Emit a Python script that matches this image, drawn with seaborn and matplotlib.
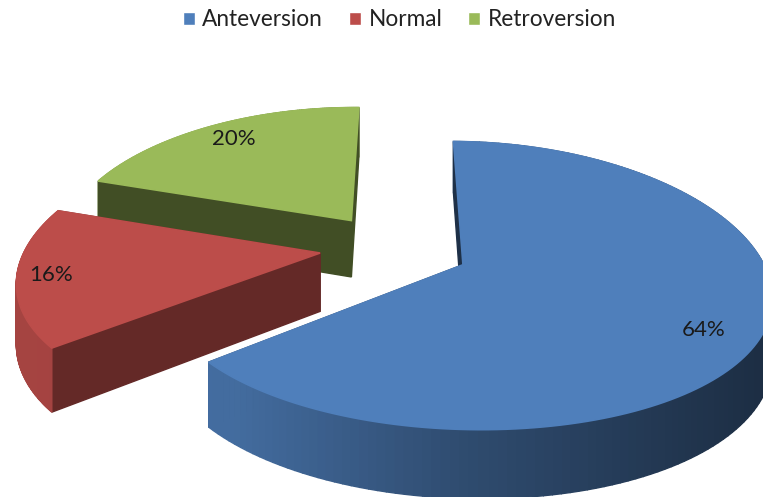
import numpy as np
import matplotlib
matplotlib.use("Agg")
import matplotlib.pyplot as plt
from matplotlib.patches import Polygon, Patch
from matplotlib.colors import to_rgb
import seaborn as sns

categories = ["Anteversion", "Normal", "Retroversion"]
shares = [64, 16, 20]
top_colors = ["#4F7FBB", "#BC4D4A", "#9ABA59"]

# how far each slice is pulled out of the pie, in pie radii
offset_u = [0.269, -0.209, -0.108]
offset_v = [0.128, 0.044, -0.200]
cut_shade = [0.38, 0.53, 0.42]
label_xy = [(704, 330), (51, 275), (234, 139)]
paint_order = [2, 1, 0]

W, H = 763, 497
CX, CY, RX, RY, TILT_X, TILT_Y, DEPTH = 382, 247, 294, 136, 0.18, 0.142, 58
ROTATION = 0.7


def project(u, v):
    return (CX + RX * u / (1 - TILT_X * v),
            CY + RY * v / (1 - TILT_Y * v),
            DEPTH / (1 - TILT_Y * v))


def shade(colour, f):
    return tuple(c * f for c in to_rgb(colour))


sns.set_theme(style="white")
plt.rcParams["font.family"] = ["Lato", "DejaVu Sans"]
fig = plt.figure(figsize=(W / 100, H / 100), dpi=100)
ax = fig.add_axes([0, 0, 1, 1])
ax.set_xlim(0, W)
ax.set_ylim(H, 0)
ax.axis("off")

edges = np.cumsum([0] + shares) / sum(shares) * 360 + ROTATION

for i in paint_order:
    colour = top_colors[i]
    a0, a1 = np.radians(edges[i]), np.radians(edges[i + 1])
    ou, ov = offset_u[i], offset_v[i]
    th = np.linspace(a0, a1, 160)
    us, vs = ou + np.sin(th), ov - np.cos(th)
    sx, sy, d = project(us, vs)
    ax_, ay_, ad = project(ou, ov)

    faces = []
    for j in range(len(th) - 1):
        quad = [(sx[j], sy[j]), (sx[j + 1], sy[j + 1]),
                (sx[j + 1], sy[j + 1] + d[j + 1]), (sx[j], sy[j] + d[j])]
        # rim brightness falls off from left to right
        t = (sx[j] - 13) / (763 - 13)
        f = np.interp(t, [0, 0.3, 0.6, 1.0], [0.88, 0.85, 0.6, 0.36])
        faces.append(((vs[j] + vs[j + 1]) / 2, quad, shade(colour, f)))
    for k in (0, -1):
        quad = [(ax_, ay_), (sx[k], sy[k]), (sx[k], sy[k] + d[k]), (ax_, ay_ + ad)]
        faces.append(((ov + vs[k]) / 2, quad, shade(colour, cut_shade[i])))
    for _, quad, fc in sorted(faces, key=lambda f: f[0]):
        ax.add_patch(Polygon(quad, closed=True, fc=fc, ec=fc, lw=1.0))

    ax.add_patch(Polygon(np.r_[[[ax_, ay_]], np.c_[sx, sy]], closed=True, fc=colour, ec=colour, lw=1.2))

for share, (lx, ly) in zip(shares, label_xy):
    ax.text(lx, ly, f"{share}%", ha="center", va="center", fontsize=16, color="#1a1a1a")

handles = [Patch(fc=c, label=n) for n, c in zip(categories, top_colors)]
ax.legend(handles=handles, loc="upper center", bbox_to_anchor=(0.5236, 1.022), ncol=3, frameon=False,
          fontsize=16.3, labelcolor="#222222", handlelength=0.53, handleheight=0.53,
          handletextpad=0.32, columnspacing=1.15)
fig.savefig("out.png", dpi=100)
